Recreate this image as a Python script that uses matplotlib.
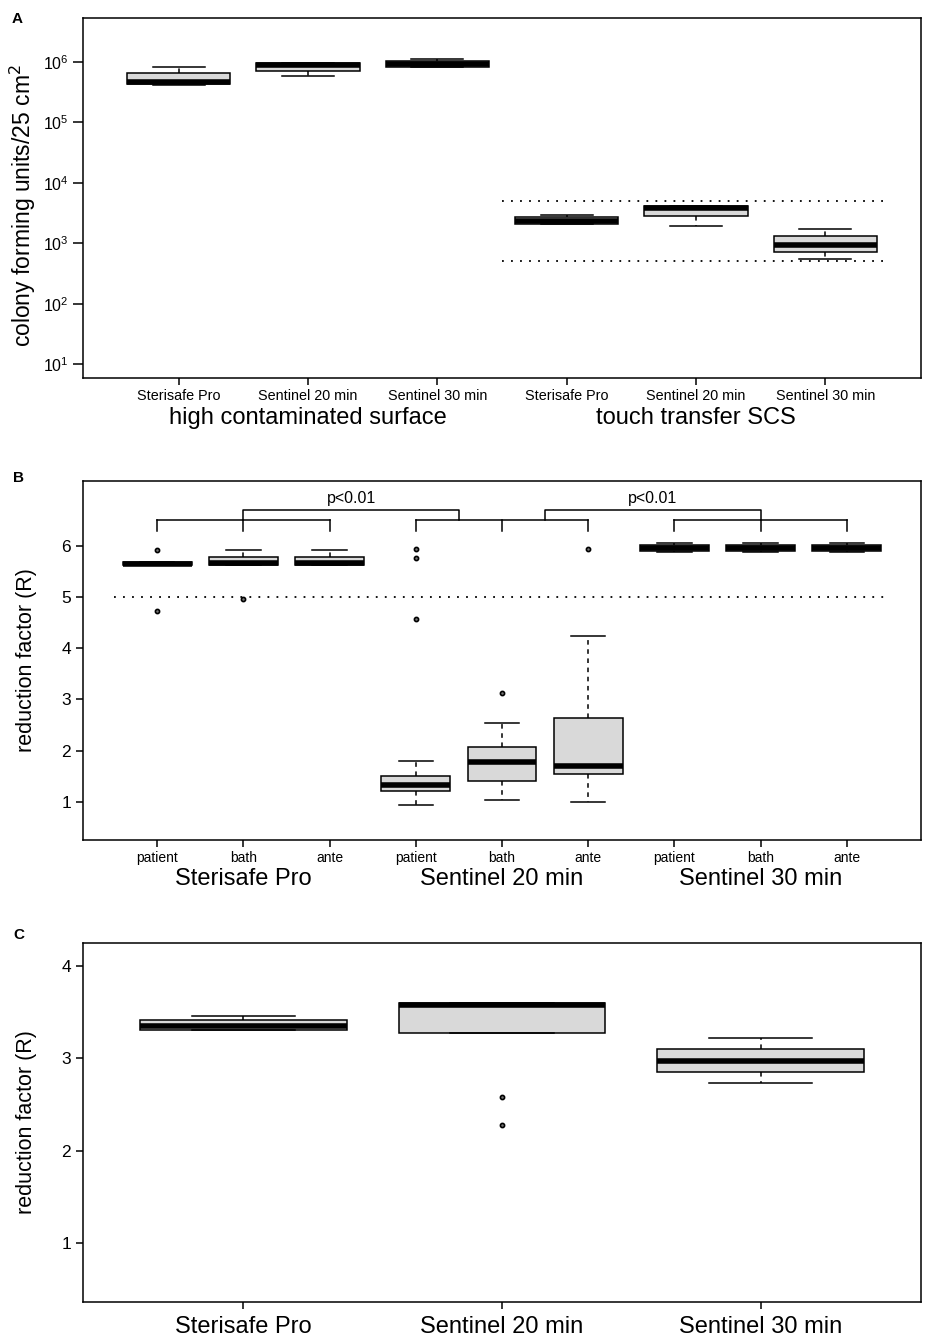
import numpy as np
import matplotlib
matplotlib.use("Agg")
import matplotlib.pyplot as plt
from matplotlib.ticker import FixedLocator, NullLocator, LogFormatterSciNotation

plt.rcParams['font.family'] = ['Liberation Sans', 'DejaVu Sans']

# ---- data ----
# panel A: colony forming units / 25 cm2 (log scale)
a_labels = ['Sterisafe Pro', 'Sentinel 20 min', 'Sentinel 30 min',
            'Sterisafe Pro', 'Sentinel 20 min', 'Sentinel 30 min']
a_groups = ['high contaminated surface', 'touch transfer SCS']
a_lo = [4.2e5, 5.9e5, 8.2e5, 2.05e3, 1.93e3, 5.5e2]
a_q1 = [4.3e5, 7.2e5, 8.3e5, 2.06e3, 2.86e3, 7.3e2]
a_med = [4.7e5, 9.0e5, 9.2e5, 2.35e3, 3.9e3, 9.4e2]
a_q3 = [6.6e5, 9.7e5, 1.05e6, 2.7e3, 4.2e3, 1.32e3]
a_hi = [8.3e5, 9.7e5, 1.13e6, 2.95e3, 4.2e3, 1.7e3]
a_limits = [5e3, 5e2]

# panel B: reduction factor per site
b_labels = ['patient', 'bath', 'ante'] * 3
b_groups = ['Sterisafe Pro', 'Sentinel 20 min', 'Sentinel 30 min']
b_lo = [5.63, 5.62, 5.62, 0.94, 1.04, 0.99, 5.89, 5.89, 5.89]
b_q1 = [5.63, 5.62, 5.62, 1.20, 1.40, 1.55, 5.91, 5.91, 5.91]
b_med = [5.65, 5.66, 5.66, 1.33, 1.78, 1.70, 5.96, 5.96, 5.96]
b_q3 = [5.68, 5.79, 5.79, 1.50, 2.06, 2.63, 6.02, 6.02, 6.02]
b_hi = [5.68, 5.92, 5.92, 1.79, 2.54, 4.24, 6.05, 6.05, 6.05]
b_fliers = [[5.92, 4.73], [4.97], [], [5.94, 5.76, 4.57], [3.12], [5.94], [], [], []]
b_limit = 5
b_ptext = 'p<0.01'

# panel C: reduction factor
c_labels = ['Sterisafe Pro', 'Sentinel 20 min', 'Sentinel 30 min']
c_lo = [3.31, 3.27, 2.73]
c_q1 = [3.31, 3.27, 2.85]
c_med = [3.35, 3.58, 2.97]
c_q3 = [3.42, 3.60, 3.10]
c_hi = [3.46, 3.60, 3.22]
c_fliers = [[], [2.58, 2.28], []]


def make_stats(lo, q1, med, q3, hi, fliers=None):
    stats = []
    for i in range(len(med)):
        stats.append({'whislo': lo[i], 'q1': q1[i], 'med': med[i], 'q3': q3[i],
                      'whishi': hi[i], 'fliers': fliers[i] if fliers else []})
    return stats


def draw_boxes(ax, stats):
    pos = np.arange(1, len(stats) + 1)
    ax.bxp(stats, positions=pos, widths=0.8, capwidths=0.4, patch_artist=True,
           showfliers=True,
           boxprops=dict(facecolor='#D9D9D9', edgecolor='black', linewidth=1.1),
           medianprops=dict(color='black', linewidth=4, solid_capstyle='butt'),
           whiskerprops=dict(color='black', linewidth=1.1, linestyle=(0, (3, 3))),
           capprops=dict(color='black', linewidth=1.1),
           flierprops=dict(marker='o', markersize=3, markerfacecolor='#777777',
                           markeredgecolor='black', markeredgewidth=1.2, linestyle='none'))
    return pos


def style_axes(ax):
    for s in ax.spines.values():
        s.set_linewidth(1.1)
    ax.tick_params(direction='out', length=5, width=1.1, colors='black')


fig = plt.figure(figsize=(9.26, 13.39), dpi=100)
left, width = 83 / 926, 838 / 926
H = 1339

# ---------------- panel A ----------------
axA = fig.add_axes([left, 1 - 378 / H, width, 360 / H])
posA = draw_boxes(axA, make_stats(a_lo, a_q1, a_med, a_q3, a_hi))
axA.set_yscale('log')
axA.set_ylim(10 ** 0.77, 10 ** 6.73)
axA.set_xlim(0.26, 6.74)
axA.yaxis.set_major_locator(FixedLocator([10.0 ** k for k in range(1, 7)]))
axA.yaxis.set_major_formatter(LogFormatterSciNotation())
axA.yaxis.set_minor_locator(NullLocator())
for lim in a_limits:
    axA.hlines(lim, 3.5, 6.5, colors='black', linewidth=1.3, linestyles=[(0, (1, 4))])
axA.set_xticks(posA)
axA.set_xticklabels(a_labels, fontsize=10.4)
axA.tick_params(axis='y', labelsize=11.5)
style_axes(axA)
axA.tick_params(axis='y', length=7)
axA.tick_params(axis='x', pad=3)
axA.set_ylabel('colony forming units/25 cm$^2$', fontsize=16.5)
axA.yaxis.set_label_coords(-0.054, 0.48)
for i, g in enumerate(a_groups):
    axA.text(2 + 3 * i, -0.112, g, transform=axA.get_xaxis_transform(),
             ha='center', va='center', fontsize=17)
fig.text(17 / 926, 1 - 19 / H, 'A', fontsize=11, fontweight='bold', ha='center', va='center')

# ---------------- panel B ----------------
axB = fig.add_axes([left, 1 - 840 / H, width, 359 / H])
posB = draw_boxes(axB, make_stats(b_lo, b_q1, b_med, b_q3, b_hi, b_fliers))
axB.set_ylim(0.25, 7.27)
axB.set_xlim(0.14, 9.86)
axB.set_yticks([1, 2, 3, 4, 5, 6])
axB.hlines(b_limit, 0.5, 9.5, colors='black', linewidth=1.3, linestyles=[(0, (1, 4))])
axB.set_xticks(posB)
axB.set_xticklabels(b_labels, fontsize=10)
axB.tick_params(axis='y', labelsize=12.5)
style_axes(axB)
axB.tick_params(axis='x', pad=3)
axB.set_ylabel('reduction factor (R)', fontsize=15.5)
axB.yaxis.set_label_coords(-0.055, 0.5)
for i, g in enumerate(b_groups):
    axB.text(2 + 3 * i, -0.108, g, transform=axB.get_xaxis_transform(),
             ha='center', va='center', fontsize=17)

# comparison brackets
y_low, y_mid, y_top = 6.29, 6.51, 6.71
for g in range(3):
    x0 = 1 + 3 * g
    axB.plot([x0, x0 + 2], [y_mid, y_mid], color='black', lw=1.1)
    for k in range(3):
        axB.plot([x0 + k, x0 + k], [y_low, y_mid], color='black', lw=1.1)
for xa, xb in [(2, 4.5), (5.5, 8)]:
    axB.plot([xa, xa, xb, xb], [y_mid, y_top, y_top, y_mid], color='black', lw=1.1)
    axB.text((xa + xb) / 2, 6.92, b_ptext, ha='center', va='center', fontsize=11.5)
fig.text(19 / 926, 1 - 478 / H, 'B', fontsize=11, fontweight='bold', ha='center', va='center')

# ---------------- panel C ----------------
axC = fig.add_axes([left, 1 - 1302 / H, width, 359 / H])
posC = draw_boxes(axC, make_stats(c_lo, c_q1, c_med, c_q3, c_hi, c_fliers))
axC.set_ylim(0.36, 4.25)
axC.set_xlim(0.38, 3.62)
axC.set_yticks([1, 2, 3, 4])
axC.set_xticks(posC)
axC.set_xticklabels(c_labels, fontsize=17)
axC.tick_params(axis='y', labelsize=12.5)
style_axes(axC)
axC.tick_params(axis='x', pad=5)
axC.set_ylabel('reduction factor (R)', fontsize=15.5)
axC.yaxis.set_label_coords(-0.055, 0.5)
fig.text(19 / 926, 1 - 935 / H, 'C', fontsize=11, fontweight='bold', ha='center', va='center')

plt.savefig('out.png', dpi=100)
